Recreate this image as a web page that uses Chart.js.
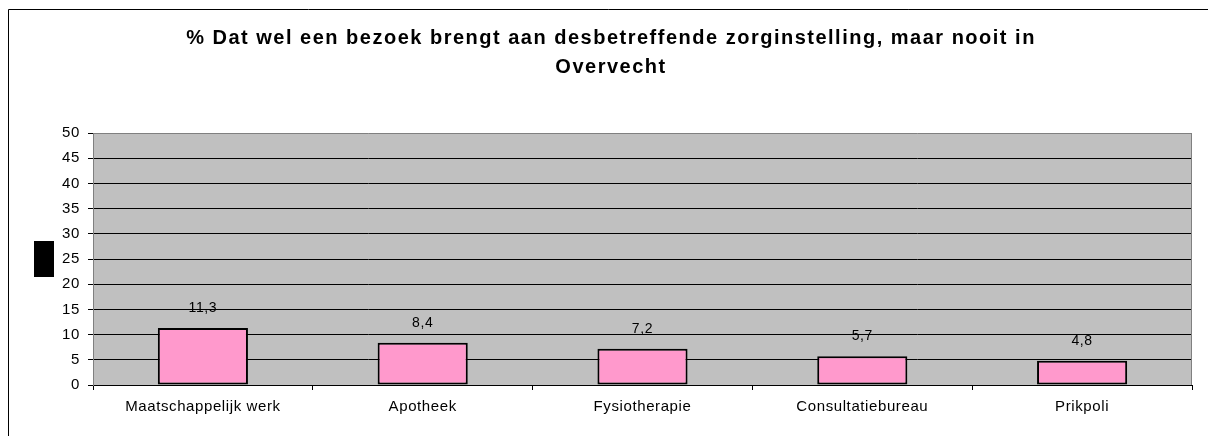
<!DOCTYPE html>
<html>
<head>
<meta charset="utf-8">
<script src="https://cdn.jsdelivr.net/npm/chart.js@4"></script>
<style>
  html, body { margin: 0; padding: 0; background: #fff; }
  canvas { display: block; }
</style>
</head>
<body>
<canvas id="chart" width="1208" height="436"></canvas>
<script>
// --- data ---
const categories = ['Maatschappelijk werk', 'Apotheek', 'Fysiotherapie', 'Consultatiebureau', 'Prikpoli'];
const percentages = [11.3, 8.4, 7.2, 5.7, 4.8];
const titleLines = ['% Dat wel een bezoek brengt aan desbetreffende zorginstelling, maar nooit in', 'Overvecht'];
const yMin = 0, yMax = 50, yStep = 5;

const FONT = "'Liberation Sans', Arial, sans-serif";
const fmt = v => v.toFixed(1).replace('.', ',');

// frame, grey plot area, black box on the left, spaced-out title
const framePlugin = {
    id: 'frame',
    beforeDraw(chart) {
        const { ctx, chartArea: a } = chart;
        ctx.save();
        ctx.fillStyle = '#fff';
        ctx.fillRect(0, 0, chart.width, chart.height);
        ctx.fillStyle = '#C0C0C0';
        ctx.fillRect(a.left, a.top, a.right - a.left, a.bottom - a.top);
        // outer border (top + left)
        ctx.strokeStyle = '#000';
        ctx.lineWidth = 1;
        ctx.beginPath();
        ctx.moveTo(8.5, chart.height);
        ctx.lineTo(8.5, 9.5);
        ctx.lineTo(chart.width, 9.5);
        ctx.stroke();
        // axis title placeholder box
        ctx.fillStyle = '#000';
        ctx.fillRect(34, 241, 20, 36);
        // title
        ctx.font = 'bold 20px ' + FONT;
        ctx.letterSpacing = '1.5px';
        ctx.textAlign = 'center';
        ctx.textBaseline = 'alphabetic';
        titleLines.forEach((line, i) => ctx.fillText(line, 611, 44 + i * 29));
        ctx.restore();
        // Excel-like loose spacing for the remaining texts
        ctx.letterSpacing = '0.6px';
    },
    afterDraw(chart) {
        const { ctx, chartArea: a } = chart;
        ctx.save();
        ctx.strokeStyle = '#808080';
        ctx.lineWidth = 1;
        ctx.beginPath();
        ctx.moveTo(a.right - 0.5, a.top);
        ctx.lineTo(a.right - 0.5, a.bottom);
        ctx.stroke();
        ctx.restore();
        ctx.letterSpacing = '0px';
    }
};

const valueLabels = {
    id: 'valueLabels',
    afterDatasetsDraw(chart) {
        const { ctx } = chart;
        const meta = chart.getDatasetMeta(0);
        ctx.save();
        ctx.font = '14px ' + FONT;
        ctx.fillStyle = '#000';
        ctx.textAlign = 'center';
        ctx.textBaseline = 'middle';
        meta.data.forEach((bar, i) => {
            ctx.fillText(fmt(percentages[i]), bar.x, bar.y - 20);
        });
        ctx.restore();
    }
};

new Chart(document.getElementById('chart'), {
    type: 'bar',
    data: {
        labels: categories,
        datasets: [{
            data: percentages,
            backgroundColor: '#FF99CC',
            borderColor: '#000',
            borderWidth: 2,
            borderSkipped: false,
            categoryPercentage: 1,
            barPercentage: 0.41
        }]
    },
    options: {
        responsive: false,
        animation: false,
        devicePixelRatio: 1,
        layout: { padding: { left: 0, right: 16, top: 133, bottom: 0 } },
        plugins: {
            legend: { display: false },
            tooltip: { enabled: false },
            title: { display: false }
        },
        scales: {
            x: {
                grid: {
                    offset: true,
                    drawOnChartArea: false,
                    drawTicks: true,
                    tickLength: 5,
                    color: '#000'
                },
                border: { display: true, color: '#000', width: 1 },
                ticks: {
                    color: '#000',
                    font: { family: FONT, size: 15 },
                    padding: 8,
                    maxRotation: 0,
                    autoSkip: false
                },
                afterFit(scale) { scale.height = 51; }
            },
            y: {
                min: yMin,
                max: yMax,
                grid: {
                    color: ctx => (ctx.tick && ctx.tick.value === yMax) ? '#808080' : '#000',
                    tickColor: '#000',
                    tickLength: 5,
                    lineWidth: 1
                },
                border: { display: true, color: '#808080', width: 1 },
                ticks: {
                    stepSize: yStep,
                    color: '#000',
                    font: { family: FONT, size: 15 },
                    padding: 8
                },
                afterFit(scale) { scale.width = 93; }
            }
        }
    },
    plugins: [framePlugin, valueLabels]
});
</script>
</body>
</html>
